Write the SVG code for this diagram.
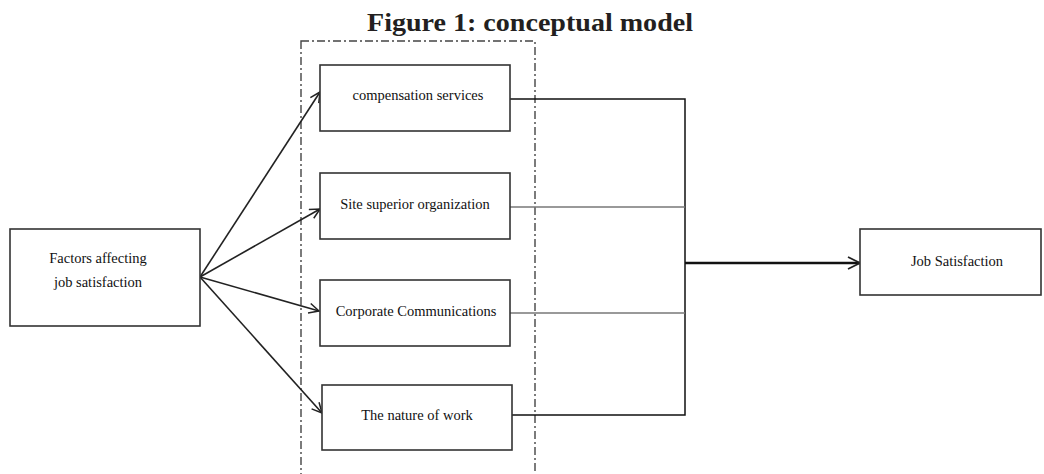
<svg xmlns="http://www.w3.org/2000/svg" width="1044" height="474" viewBox="0 0 1044 474">
<defs>
<style>
.box{fill:#fff;stroke:#333;stroke-width:1.6}
.lbl{font-family:"Liberation Serif","Times New Roman",serif;font-size:14.5px;fill:#111;text-anchor:middle}
.title{font-family:"Liberation Serif","Times New Roman",serif;font-size:26px;font-weight:bold;fill:#231f20;text-anchor:middle}
.arr{stroke:#222;stroke-width:1.6;fill:none;marker-end:url(#ah)}
.blk{stroke:#111;stroke-width:1.5;fill:none}
.gry{stroke:#777;stroke-width:1.3;fill:none}
</style>
<marker id="ah" viewBox="0 0 12 12" refX="11" refY="6" markerWidth="12" markerHeight="12" markerUnits="userSpaceOnUse" orient="auto">
<path d="M1,1 L11,6 L1,11" fill="none" stroke="#222" stroke-width="1.5"/>
</marker>
<marker id="ah2" viewBox="0 0 14 14" refX="13" refY="7" markerWidth="14" markerHeight="14" markerUnits="userSpaceOnUse" orient="auto">
<path d="M1,1 L13,7 L1,13" fill="none" stroke="#222" stroke-width="1.8"/>
</marker>
</defs>
<rect width="1044" height="474" fill="#fff"/>
<text class="title" x="530" y="31" textLength="326" lengthAdjust="spacingAndGlyphs">Figure 1: conceptual model</text>
<rect id="group-frame" x="301" y="41" width="234" height="450" fill="none" stroke="#444" stroke-width="1.4" stroke-dasharray="8,3,2,3"/>
<g id="connectors">
<line class="arr" x1="200" y1="277" x2="320" y2="92"/>
<line class="arr" x1="200" y1="277" x2="320" y2="209"/>
<line class="arr" x1="200" y1="277" x2="319" y2="311"/>
<line class="arr" x1="200" y1="277" x2="322" y2="413"/>
<polyline class="blk" points="510,99 685,99 685,415 512,415"/>
<line class="gry" x1="510" y1="207" x2="685" y2="207"/>
<line class="gry" x1="510" y1="313" x2="685" y2="313"/>
<line x1="685" y1="263" x2="860" y2="263" stroke="#111" stroke-width="2.4" marker-end="url(#ah2)"/>
</g>
<g id="factors">
<rect class="box" x="10" y="229" width="190" height="97"/>
<text class="lbl" x="98" y="263">Factors affecting</text>
<text class="lbl" x="98" y="287">job satisfaction</text>
</g>
<g id="compensation">
<rect class="box" x="320" y="65" width="190" height="66"/>
<text class="lbl" x="418" y="100">compensation services</text>
</g>
<g id="site">
<rect class="box" x="320" y="173" width="190" height="66"/>
<text class="lbl" x="415" y="209">Site superior organization</text>
</g>
<g id="corporate">
<rect class="box" x="320" y="280" width="190" height="66"/>
<text class="lbl" x="416" y="316">Corporate Communications</text>
</g>
<g id="nature">
<rect class="box" x="322" y="385" width="190" height="65"/>
<text class="lbl" x="417" y="420">The nature of work</text>
</g>
<g id="job">
<rect class="box" x="860" y="229" width="181" height="66"/>
<text class="lbl" x="957" y="266">Job Satisfaction</text>
</g>
</svg>
